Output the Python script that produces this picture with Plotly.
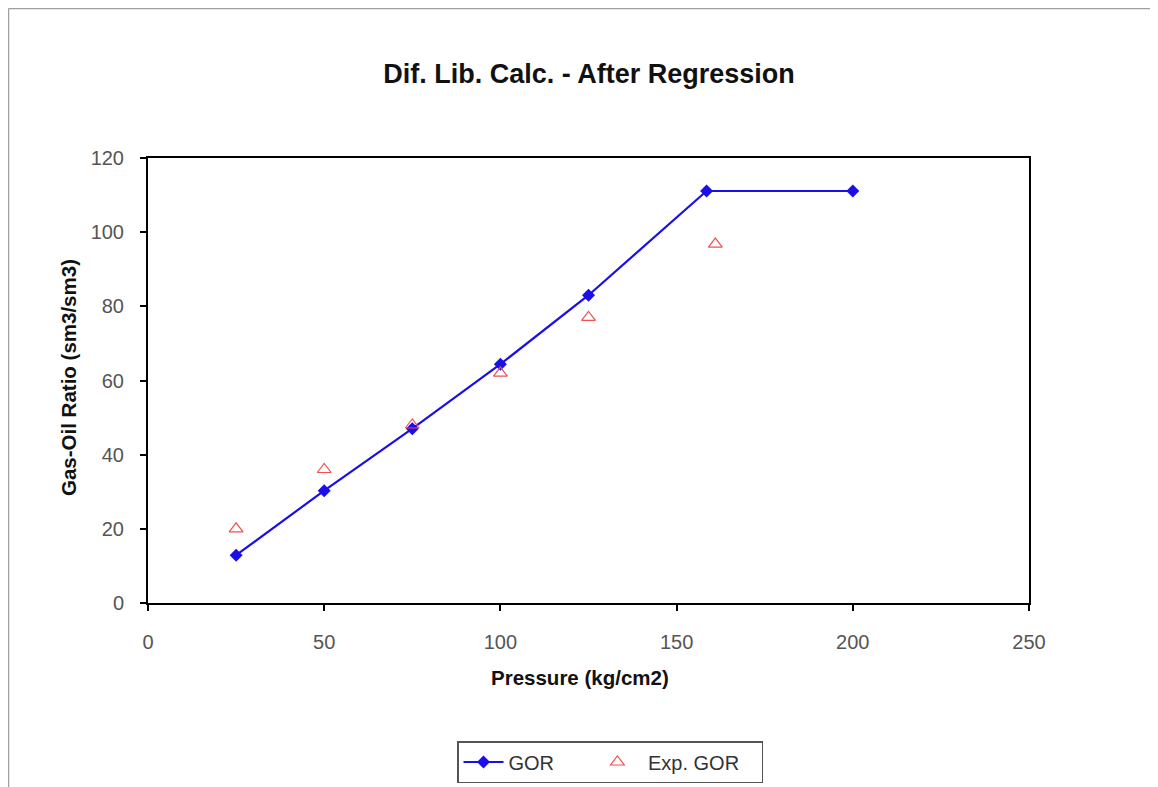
import plotly.graph_objects as go

pressure_calc = [25, 50, 75, 100, 125, 158.5, 200]
gor_calc = [12.9, 30.3, 47.0, 64.4, 83.0, 111.1, 111.1]
pressure_exp = [25, 50, 75, 100, 125, 161]
gor_exp = [20.0, 36.0, 48.0, 62.0, 77.0, 96.8]
series_names = ["GOR", "Exp. GOR"]

# page has an 8px body margin, so the figure is laid out 8px smaller
OFF = 8
W, H = 1158 - OFF, 787 - OFF
L, R, T, B = 148 - OFF, 129, 158 - OFF, 184
pw, ph = W - L - R, H - T - B

NB = "\u00a0"

fig = go.Figure()
fig.add_trace(go.Scatter(
    x=pressure_calc, y=gor_calc, name=series_names[0] + NB * 6, mode="lines+markers",
    line=dict(color="#1a0fe8", width=2.2),
    marker=dict(symbol="diamond", size=10, color="#1a0fe8")))
fig.add_trace(go.Scatter(
    x=pressure_exp, y=gor_exp, name=NB + series_names[1] + NB * 3, mode="markers",
    marker=dict(symbol="triangle-up-open", size=12, color="#f05050",
                line=dict(width=1.2, color="#f05050"))))


def px_x(p):
    # page pixel -> paper x
    return (p - OFF - L) / pw


def px_y(p):
    # page pixel -> paper y
    return (H - B - (p - OFF)) / ph


shapes = [
    dict(type="line", xref="paper", yref="paper", x0=px_x(8.5), x1=px_x(1156), y0=px_y(8.5), y1=px_y(8.5),
         line=dict(color="#a0a0a0", width=1.5)),
    dict(type="line", xref="paper", yref="paper", x0=px_x(8.5), x1=px_x(8.5), y0=px_y(8.5), y1=px_y(800),
         line=dict(color="#a0a0a0", width=1.5)),
    dict(type="line", xref="paper", yref="paper", x0=px_x(1156), x1=px_x(1156), y0=px_y(8.5), y1=px_y(800),
         line=dict(color="#a0a0a0", width=1.5)),
]

annotations = [
    dict(text="<b>Pressure (kg/cm2)</b>", xref="paper", yref="paper", x=px_x(580), y=px_y(677),
         xanchor="center", yanchor="middle", showarrow=False, font=dict(size=20.5, color="#111111")),
    dict(text="<b>Gas-Oil Ratio (sm3/sm3)</b>", xref="paper", yref="paper", x=px_x(68), y=px_y(378),
         xanchor="center", yanchor="middle", textangle=-90, showarrow=False,
         font=dict(size=20.5, color="#111111")),
]

fig.update_layout(
    width=W, height=H,
    margin=dict(l=L, r=R, t=T, b=B, autoexpand=False),
    paper_bgcolor="white", plot_bgcolor="white",
    font=dict(family="Liberation Sans, Arial, sans-serif", size=14, color="#333333"),
    title=dict(text="<b>Dif. Lib. Calc. - After Regression</b>", x=(589 - OFF) / W, xanchor="center",
               y=1 - (74 - OFF) / H, yanchor="middle", font=dict(size=27, color="#111111")),
    xaxis=dict(range=[0, 250], tickvals=[0, 50, 100, 150, 200, 250], showgrid=False, zeroline=False,
               showline=True, linecolor="black", linewidth=2, mirror=True,
               ticks="outside", ticklen=6, tickcolor="black", tickwidth=1.5,
               ticklabelstandoff=14, automargin=False,
               tickfont=dict(size=20, color="#555555")),
    yaxis=dict(range=[0, 120], tickvals=[0, 20, 40, 60, 80, 100, 120], showgrid=False, zeroline=False,
               showline=True, linecolor="black", linewidth=2, mirror=True,
               ticks="outside", ticklen=6, tickcolor="black", tickwidth=1.5,
               ticklabelstandoff=12, automargin=False,
               tickfont=dict(size=20, color="#555555")),
    legend=dict(orientation="h", xref="container", yref="container",
                x=(610 - OFF) / W, xanchor="center", y=1 - (741 - OFF) / H, yanchor="top",
                bordercolor="#555555", borderwidth=1.5, bgcolor="white",
                font=dict(size=20, color="#333333"), itemwidth=40),
    annotations=annotations,
    shapes=shapes,
    showlegend=True,
)

fig.write_html("out.html")
